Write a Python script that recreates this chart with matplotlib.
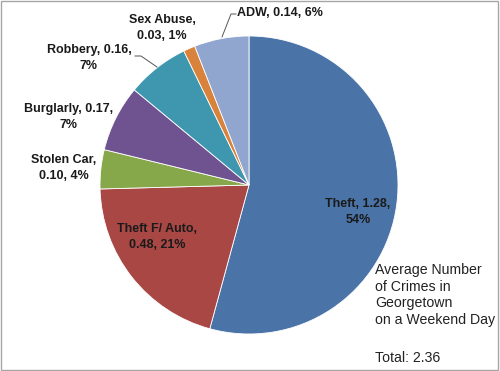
import matplotlib
matplotlib.use("Agg")
import matplotlib.pyplot as plt
from matplotlib.patches import Rectangle

categories = ["Theft", "Theft F/ Auto", "Stolen Car", "Burglarly", "Robbery", "Sex Abuse", "ADW"]
values = [1.28, 0.48, 0.10, 0.17, 0.16, 0.03, 0.14]
percents = ["54%", "21%", "4%", "7%", "7%", "1%", "6%"]
colors = ["#4A74A8", "#A84744", "#86A84A", "#6F5391", "#3F97AF", "#D9823B", "#91A6CF"]

W, H = 500, 371
fig = plt.figure(figsize=(5, 3.71), dpi=100)
fig.patch.set_facecolor("white")
ax = fig.add_axes([0, 0, 1, 1])

cx, cy, r = 249, H - 185, 149
ax.pie(values, colors=colors, startangle=90, counterclock=False,
       center=(cx, cy), radius=r, frame=True,
       wedgeprops=dict(edgecolor="white", linewidth=0.6))
ax.set_xlim(0, W)
ax.set_ylim(0, H)
ax.set_aspect("equal")
ax.axis("off")

def lab(i):
    return f"{categories[i]}, {values[i]:.2f},"

font = dict(family=["Liberation Sans", "DejaVu Sans"], fontsize=9, fontweight="bold", color="#1a1a1a")
ls = 1.4
ax.text(358, H - 212, f"{lab(0)}\n{percents[0]}", ha="center", va="center", linespacing=ls, **font)
ax.text(157, H - 237, f"{categories[1]},\n{values[1]:.2f}, {percents[1]}", ha="center", va="center", linespacing=ls, **font)
ax.text(64, H - 168, f"{categories[2]},\n{values[2]:.2f}, {percents[2]}", ha="center", va="center", linespacing=ls, **font)
ax.text(69, H - 117, f"{lab(3)}\n{percents[3]}", ha="center", va="center", linespacing=ls, **font)
ax.text(89, H - 58, f"{lab(4)}\n{percents[4]}", ha="center", va="center", linespacing=ls, **font)
ax.text(162, H - 28, f"{categories[5]},\n{values[5]:.2f}, {percents[5]}", ha="center", va="center", linespacing=ls, **font)
ax.text(237, H - 13, f"{categories[6]}, {values[6]:.2f}, {percents[6]}", ha="left", va="center", **font)

# leader lines
ax.plot([135, 141, 157], [H - 56, H - 56, H - 67], color="#555555", lw=0.7)
ax.plot([236, 231, 222], [H - 14, H - 14, H - 37], color="#555555", lw=0.7)

tfont = dict(family=["Liberation Sans", "DejaVu Sans"], fontsize=10.2, color="#222222")
ax.text(375, H - 263, "Average Number\nof Crimes in\nGeorgetown\non a Weekend Day",
        ha="left", va="top", linespacing=1.25, **tfont)
ax.text(375, H - 358, "Total: 2.36", ha="left", va="center", **tfont)

fig.add_artist(Rectangle((0.002, 0.004), 0.993, 0.992, transform=fig.transFigure,
                         fill=False, edgecolor="#a6a6a6", lw=1.0))

fig.savefig("out.png", dpi=100)
